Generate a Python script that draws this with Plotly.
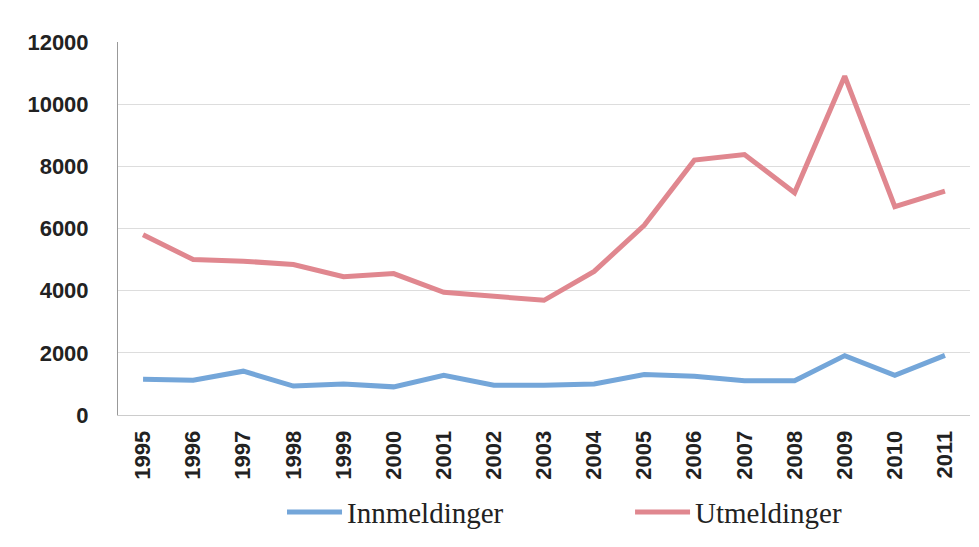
import plotly.graph_objects as go

years = [str(y) for y in range(1995, 2012)]
innmeldinger = [1150, 1120, 1410, 930, 1000, 905, 1280, 960, 960, 1000, 1300, 1250, 1100, 1100, 1910, 1280, 1920]
utmeldinger = [5800, 5000, 4950, 4840, 4450, 4550, 3950, 3820, 3690, 4620, 6100, 8200, 8380, 7150, 10900, 6700, 7200]
y_ticks = [0, 2000, 4000, 6000, 8000, 10000, 12000]
y_labels = [str(v) for v in y_ticks]

fig = go.Figure()
fig.add_trace(go.Scatter(x=years, y=innmeldinger, mode="lines", name="Innmeldinger",
                         line=dict(color="#74A6D9", width=5), legend="legend"))
fig.add_trace(go.Scatter(x=years, y=utmeldinger, mode="lines", name="Utmeldinger",
                         line=dict(color="#E0878F", width=5), legend="legend2"))

legend_font = dict(family="Liberation Serif", size=29, color="#222222")
fig.update_layout(
    width=979, height=547,
    margin=dict(l=110, r=17, t=34, b=139.5, autoexpand=False),
    paper_bgcolor="white", plot_bgcolor="white",
    font=dict(family="Liberation Sans", color="#222222"),
    showlegend=True,
    legend=dict(x=0.1925, y=-0.192, xanchor="left", yanchor="top", font=legend_font,
                itemwidth=55, bgcolor="rgba(0,0,0,0)"),
    legend2=dict(x=0.601, y=-0.192, xanchor="left", yanchor="top", font=legend_font,
                 itemwidth=55, bgcolor="rgba(0,0,0,0)"),
)
fig.update_xaxes(type="category", range=[-0.5, 16.5], tickangle=-90, automargin=False,
                 tickfont=dict(size=22, family="Liberation Sans", color="#222222", weight="bold"),
                 showgrid=False, showline=True, linecolor="#cccccc", linewidth=1,
                 ticks="", ticklabelstandoff=6)
fig.update_yaxes(range=[0, 12000], tickvals=y_ticks, ticktext=y_labels, automargin=False,
                 tickfont=dict(size=22, family="Liberation Sans", color="#222222", weight="bold"),
                 showgrid=True, gridcolor="#dddddd", gridwidth=1,
                 showline=True, linecolor="#999999", linewidth=1,
                 zeroline=False, ticks="", ticklabelstandoff=24)

fig.write_html("out.html")
